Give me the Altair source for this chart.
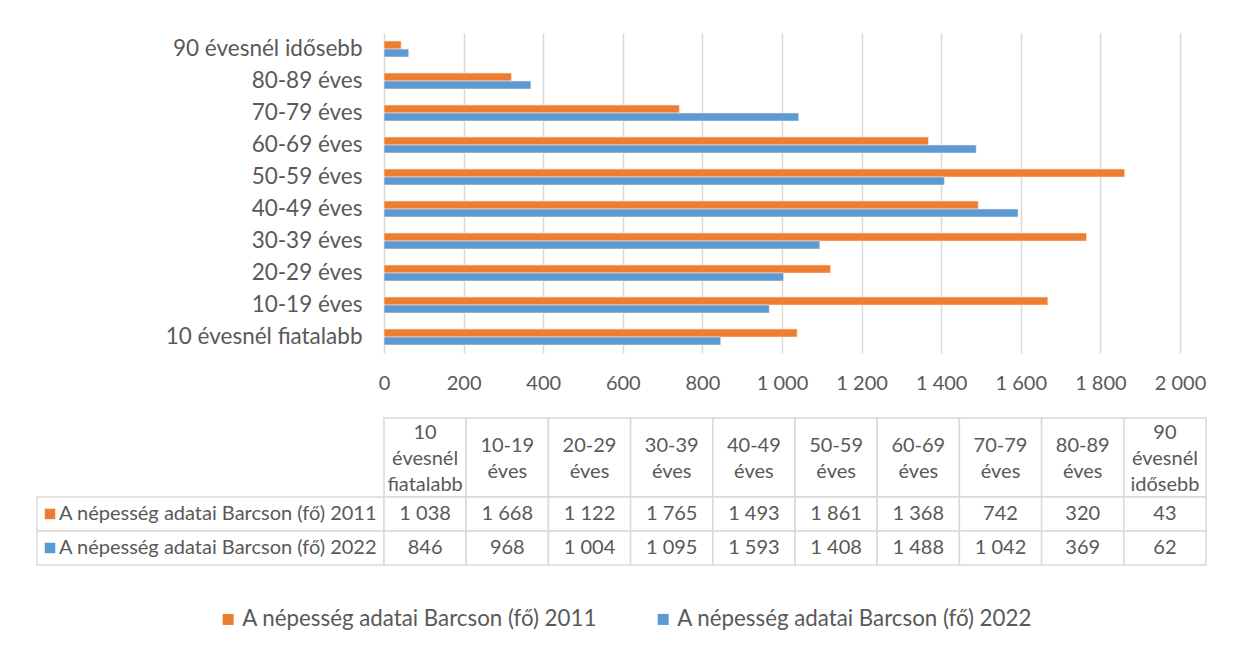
import altair as alt
import pandas as pd

categories = ["10 évesnél fiatalabb", "10-19 éves", "20-29 éves", "30-39 éves", "40-49 éves",
              "50-59 éves", "60-69 éves", "70-79 éves", "80-89 éves", "90 évesnél idősebb"]
series_names = ["A népesség adatai Barcson (fő) 2011", "A népesség adatai Barcson (fő) 2022"]
values_2011 = [1038, 1668, 1122, 1765, 1493, 1861, 1368, 742, 320, 43]
values_2022 = [846, 968, 1004, 1095, 1593, 1408, 1488, 1042, 369, 62]
x_ticks = [0, 200, 400, 600, 800, 1000, 1200, 1400, 1600, 1800, 2000]
colors = ["#ED7D31", "#5B9BD5"]

FONT = "Lato"
TXT = "#595959"
GRID = "#D9D9D9"

rows = []
for s, vals in zip(series_names, [values_2011, values_2022]):
    for c, v in zip(categories, vals):
        rows.append({"cat": c, "series": s, "value": v})
df = pd.DataFrame(rows)

# table layout (row units)
TABLE_H = 147
HEADER_U = 2.32
total_u = HEADER_U + 2
LINE_U = 26 / (TABLE_H / total_u)

hdr = pd.DataFrame({"cat": categories, "top": 0.0, "bot": HEADER_U})
hdr_lines = []
for c in categories:
    parts = c.split(" ")
    n = len(parts)
    for i, p in enumerate(parts):
        hdr_lines.append({"cat": c, "line": p,
                          "mid": HEADER_U / 2 + (i - (n - 1) / 2) * LINE_U + 0.04})
hdr_lines = pd.DataFrame(hdr_lines)

cells = df.copy()
cells["top"] = cells["series"].map({series_names[0]: HEADER_U, series_names[1]: HEADER_U + 1})
cells["bot"] = cells["top"] + 1
cells["mid"] = cells["top"] + 0.5
lab = pd.DataFrame({"series": series_names, "col": "label"})
lab["top"] = [HEADER_U, HEADER_U + 1]
lab["bot"] = lab["top"] + 1
lab["mid"] = lab["top"] + 0.5

yscale_t = alt.Scale(domain=[0, total_u], reverse=True, nice=False, zero=False)
color_scale = alt.Scale(domain=series_names, range=colors)

bars = alt.Chart(df).mark_bar(stroke="#FBE5D6", strokeWidth=0.6).encode(
    x=alt.X("value:Q", title=None,
            scale=alt.Scale(domain=[0, 2000], nice=False),
            axis=alt.Axis(values=x_ticks, grid=True, gridColor=GRID, gridWidth=1.5,
                          domain=False, ticks=False, labelPadding=20, labelFlush=False,
                          labelFontSize=20, labelColor=TXT, labelFont=FONT,
                          labelExpr="replace(format(datum.value, ','), ',', ' ')")),
    y=alt.Y("cat:N", title=None, sort=list(reversed(categories)),
            scale=alt.Scale(paddingInner=0.5, paddingOuter=0.25),
            axis=alt.Axis(domain=False, ticks=False, labelPadding=22,
                          labelFontSize=22.5, labelColor=TXT, labelFont=FONT, labelLimit=400)),
    yOffset=alt.YOffset("series:N", sort=series_names),
    color=alt.Color("series:N", scale=color_scale,
                    legend=alt.Legend(title=None, orient="none", direction="horizontal",
                                      legendX=-167, legendY=575, padding=0,
                                      symbolType="square", symbolSize=121, symbolStrokeWidth=0,
                                      symbolOpacity=1, labelFontSize=22.3, labelColor=TXT,
                                      labelFont=FONT, labelOffset=3, columnPadding=54,
                                      labelLimit=500)),
).properties(width=796, height=320)

blank = alt.Chart(pd.DataFrame({"a": [0]})).mark_rect(opacity=0).encode(
    y=alt.value(0)).properties(width=347, height=320)

xband = alt.X("cat:N", sort=categories, title=None, axis=None,
              scale=alt.Scale(paddingInner=0, paddingOuter=0))

hdr_rect = alt.Chart(hdr).mark_rect(fill="white", stroke=GRID, strokeWidth=1.5).encode(
    x=xband, y=alt.Y("top:Q", scale=yscale_t, axis=None), y2="bot:Q")
hdr_text = alt.Chart(hdr_lines).mark_text(font=FONT, fontSize=20, color=TXT,
                                          baseline="middle").encode(
    x=xband, y=alt.Y("mid:Q", scale=yscale_t, axis=None), text="line:N")
val_rect = alt.Chart(cells).mark_rect(fill="white", stroke=GRID, strokeWidth=1.5).encode(
    x=xband, y=alt.Y("top:Q", scale=yscale_t, axis=None), y2="bot:Q")
val_text = alt.Chart(cells).mark_text(font=FONT, fontSize=20, color=TXT,
                                      baseline="middle").transform_calculate(
    txt="replace(format(datum.value, ','), ',', ' ')").encode(
    x=xband, y=alt.Y("mid:Q", scale=yscale_t, axis=None), text="txt:N")
table = alt.layer(hdr_rect, val_rect, hdr_text, val_text).properties(width=822, height=TABLE_H)

lband = alt.X("col:N", title=None, axis=None, scale=alt.Scale(paddingInner=0, paddingOuter=0))
lband0 = alt.X("col:N", title=None, axis=None, bandPosition=0,
               scale=alt.Scale(paddingInner=0, paddingOuter=0))
lab_rect = alt.Chart(lab).mark_rect(fill="white", stroke=GRID, strokeWidth=1.5).encode(
    x=lband, y=alt.Y("top:Q", scale=yscale_t, axis=None), y2="bot:Q")
lab_sq = alt.Chart(lab).mark_square(size=110, opacity=1, xOffset=13).encode(
    x=lband0, y=alt.Y("mid:Q", scale=yscale_t, axis=None),
    color=alt.Color("series:N", scale=color_scale, legend=None))
lab_text = alt.Chart(lab).mark_text(font=FONT, fontSize=20, color=TXT, align="left",
                                    baseline="middle", dx=22).encode(
    x=lband0, y=alt.Y("mid:Q", scale=yscale_t, axis=None), text="series:N")
labels = alt.layer(lab_rect, lab_sq, lab_text).properties(width=347, height=TABLE_H)

chart = alt.concat(blank, bars, labels, table, columns=2, bounds="flush", align="each",
                   spacing={"row": 65, "column": 0}).resolve_scale(
    color="independent", x="independent", y="independent"
).properties(
    padding={"left": 28, "top": 25, "right": 5, "bottom": 5}
).configure(font=FONT).configure_view(stroke="transparent", strokeWidth=0)

chart.save("out.html", embed_options={"renderer": "svg", "actions": False})
